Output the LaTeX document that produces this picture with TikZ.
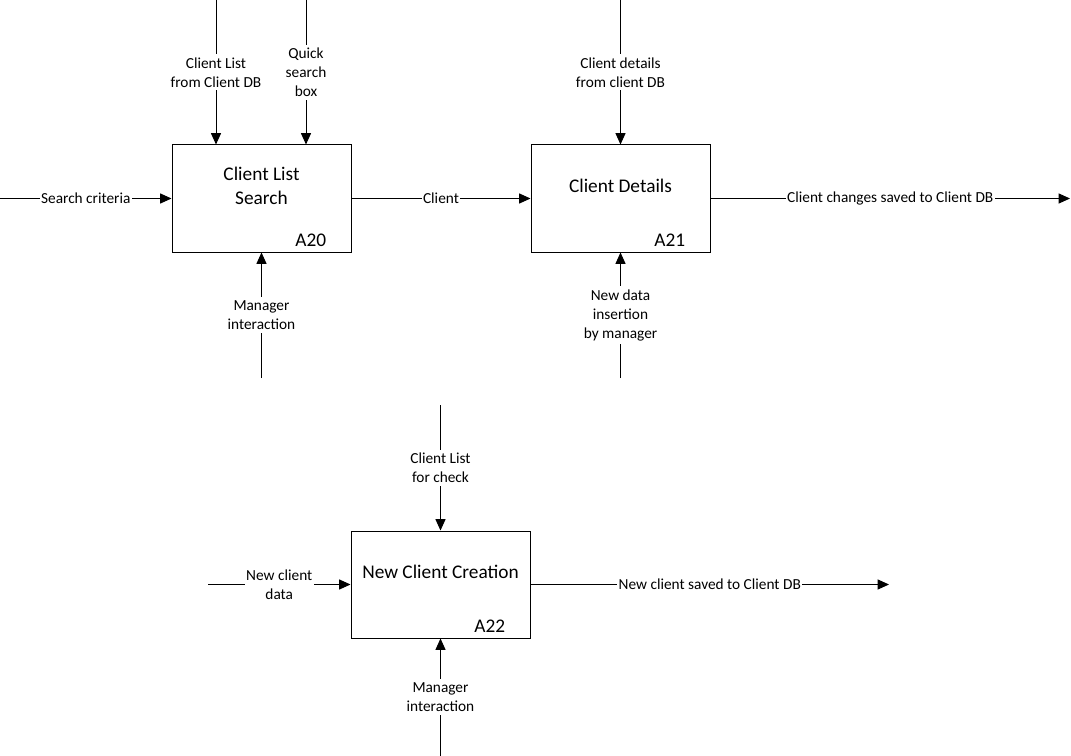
\documentclass[tikz,border=0pt]{standalone}
\usepackage{fontspec}
\setmainfont{Carlito}
\usetikzlibrary{arrows.meta,positioning,calc}

\begin{document}
\begin{tikzpicture}[
    x=0.75pt, y=-0.75pt,
    func/.style={draw, line width=0.75pt, minimum width=134.25pt, minimum height=80.25pt, inner sep=0pt},
    title/.style={font=\fontsize{14.5}{18}\selectfont, align=center, inner sep=0pt},
    num/.style={font=\fontsize{14.5}{18}\selectfont, anchor=base east, inner sep=0pt},
    lbl/.style={fill=white, inner xsep=1pt, inner ysep=2.5pt, font=\fontsize{11.5}{14.25}\selectfont, align=center},
    flow/.style={line width=0.75pt, -{Triangle[length=8.5pt, width=7.5pt]}}
  ]
    \useasboundingbox (0,0) rectangle (1071,756);

    % activity boxes
    \node[func] (A20) at (261.5,198.5) {};
    \node[func] (A21) at (620.5,198.5) {};
    \node[func] (A22) at (440.5,584.5) {};

    \node[title] (A20t) at ($(A20.center)+(0,-13)$) {Client List\\Search};
    \node[title] (A21t) at ($(A21.center)+(0,-13)$) {Client Details};
    \node[title] (A22t) at ($(A22.center)+(0,-13)$) {New Client Creation};
    \node[num] (A20n) at ($(A20.south east)+(-25,-6)$) {A20};
    \node[num] (A21n) at ($(A21.south east)+(-25,-6)$) {A21};
    \node[num] (A22n) at ($(A22.south east)+(-25,-6)$) {A22};

    % free ends
    \coordinate (critIn) at (0,198.5);
    \coordinate (listIn) at (216,0);
    \coordinate (quickIn) at (306,0);
    \coordinate (mgrA20) at (261.5,378);
    \coordinate (detIn) at (620.5,0);
    \coordinate (mgrA21) at (620.5,378);
    \coordinate (saveOut) at (1070,198.5);
    \coordinate (checkIn) at (440.5,405);
    \coordinate (newIn) at (208,584.5);
    \coordinate (newOut) at (889,584.5);
    \coordinate (mgrA22) at (440.5,756);

    % A20
    \draw[flow] (critIn) -- node[lbl]{Search criteria} (A20.west);
    \draw[flow] (listIn) -- node[lbl]{Client List\\from Client DB} (listIn |- A20.north);
    \draw[flow] (quickIn) -- node[lbl]{Quick\\search\\box} (quickIn |- A20.north);
    \draw[flow] (mgrA20) -- node[lbl]{Manager\\interaction} (A20.south);

    % A21
    \draw[flow] (A20.east) -- node[lbl]{Client} (A21.west);
    \draw[flow] (detIn) -- node[lbl]{Client details\\from client DB} (A21.north);
    \draw[flow] (mgrA21) -- node[lbl]{New data\\insertion\\by manager} (A21.south);
    \draw[flow] (A21.east) -- node[lbl]{Client changes saved to Client DB} (saveOut);

    % A22
    \draw[flow] (checkIn) -- node[lbl]{Client List\\for check} (A22.north);
    \draw[flow] (newIn) -- node[lbl]{New client\\data} (A22.west);
    \draw[flow] (A22.east) -- node[lbl]{New client saved to Client DB} (newOut);
    \draw[flow] (mgrA22) -- node[lbl]{Manager\\interaction} (A22.south);
  \end{tikzpicture}
\end{document}
